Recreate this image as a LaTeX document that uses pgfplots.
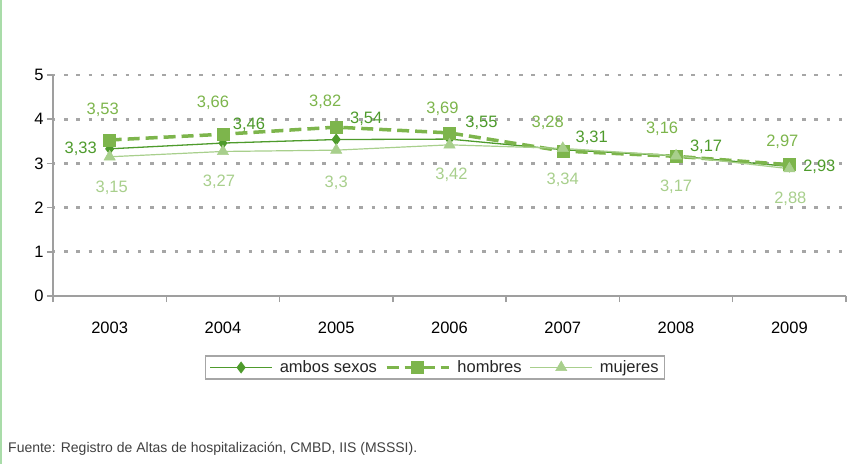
\documentclass[border=0pt]{standalone}
\usepackage{fontspec}
\setmainfont{Liberation Sans}
\usepackage{pgfplots}
\usepackage{pgfplotstable}
\pgfplotsset{compat=1.18}

\definecolor{cAmbos}{HTML}{4E9B2C}
\definecolor{cHombres}{HTML}{7DB54C}
\definecolor{cMujeres}{HTML}{A8CF8C}
\definecolor{cBorde}{HTML}{A9DCA9}

% x = year index, dx/dy = label offset in bp
\pgfplotstableread{
x y dx dy
0 3.33 -29 0
1 3.46 26 18
2 3.54 30 21
3 3.55 32 16
4 3.31 29 12
5 3.17 30 9
6 2.93 30 0
}\ambos
\pgfplotstableread{
x y dx dy
0 3.53 -7 30
1 3.66 -10 31
2 3.82 -11 25
3 3.69 -7 24
4 3.28 -15 28
5 3.16 -14 28
6 2.97 -7 23
}\hombres
\pgfplotstableread{
x y dx dy
0 3.15 2 -31
1 3.27 -4 -30
2 3.30 0 -33
3 3.42 2 -30
4 3.34 0 -31
5 3.17 0 -31
6 2.88 1 -30
}\mujeres

\newcommand\lblfont{\fontsize{16.5bp}{19bp}\selectfont}

\begin{document}
\begin{tikzpicture}
\path[use as bounding box] (0,0) rectangle (860bp,-464bp);
\draw[cBorde, line width=2bp] (1bp,0) -- (1bp,-464bp);
\begin{axis}[
  at={(53bp,-296bp)}, anchor=south west,
  scale only axis, width=793bp, height=221bp,
  xmin=-0.5, xmax=6.5, ymin=0, ymax=5,
  axis x line*=bottom, axis y line*=left,
  axis line style={gray!75, line width=1.5bp},
  tick align=outside, major tick length=6bp,
  tick style={gray!75, line width=1.5bp},
  xtick={-0.5,0.5,...,6.5}, xticklabels={,,,,,,,,},
  extra x ticks={0,1,2,3,4,5,6},
  extra x tick labels={2003,2004,2005,2006,2007,2008,2009},
  extra x tick style={major tick length=0pt, xticklabel style={yshift=-22bp}},
  ytick={0,1,2,3,4,5},
  ymajorgrids,
  grid style={gray!70, line width=2.8bp, dash pattern=on 3.5bp off 8.8bp, dash phase=1.3bp},
  ticklabel style={font=\lblfont, text=black},
  /pgf/number format/.cd, use comma, assume math mode=true, precision=2,
  /pgfplots/.cd,
  nodes near coords,
  visualization depends on={\thisrow{dx}\as\labdx},
  visualization depends on={\thisrow{dy}\as\labdy},
  every node near coord/.append style={font=\lblfont, anchor=center,
    xshift=\labdx bp, yshift=\labdy bp},
  legend columns=3,
  legend style={at={(0.4817,-0.3235)}, anchor=center, draw=gray!70,
    line width=1.5bp, font=\lblfont, text=black!85,
    inner xsep=4bp, inner ysep=3bp,
    /tikz/every odd column/.append style={column sep=5bp},
    /tikz/every even column/.append style={column sep=6bp}},
  legend image code/.code={
    \draw[mark repeat=2, mark phase=2] plot coordinates {(0bp,0bp) (31bp,0bp) (62bp,0bp)};},
]
\addplot[cAmbos, line width=1.3bp, mark=diamond*, mark size=5bp,
  mark options={solid}, every node near coord/.append style={text=cAmbos}]
  table[x=x, y=y] {\ambos};
\addlegendentry{ambos sexos}
\addplot[cHombres, line width=3.5bp, dash pattern=on 12bp off 6bp,
  mark=square*, mark size=6bp, mark options={solid, line width=0.5bp},
  every node near coord/.append style={text=cHombres}]
  table[x=x, y=y] {\hombres};
\addlegendentry{hombres}
\addplot[cMujeres, line width=1.2bp, mark=triangle*, mark size=6.5bp,
  mark options={solid, line width=0.5bp},
  every node near coord/.append style={text=cMujeres}]
  table[x=x, y=y] {\mujeres};
\addlegendentry{mujeres}
\end{axis}
\node[anchor=west, font=\fontsize{14bp}{17bp}\selectfont, text=black!75, inner sep=0pt]
  at (8bp,-449bp) {Fuente: Registro de Altas de hospitalización, CMBD, IIS (MSSSI).};
\end{tikzpicture}
\end{document}
